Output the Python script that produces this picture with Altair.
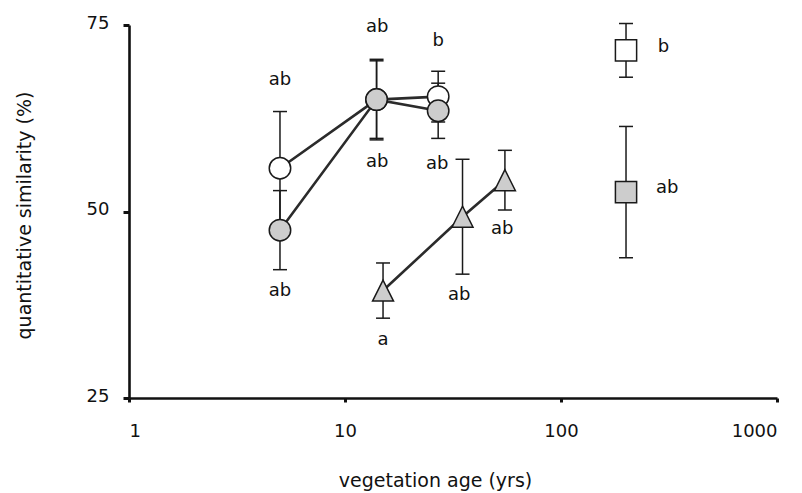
import altair as alt
import pandas as pd

# ---- data ----
oc_age = [5, 14, 27]
oc_mean = [55.8, 65.0, 65.4]
oc_err = [7.6, 5.2, 3.4]

gc_age = [5, 14, 27]
gc_mean = [47.5, 65.0, 63.5]
gc_err = [5.3, 5.4, 3.7]

tr_age = [15, 35, 55]
tr_mean = [39.4, 49.3, 54.2]
tr_err = [3.7, 7.7, 4.0]

os_age = [200]
os_mean = [71.6]
os_err = [3.6]

gs_age = [200]
gs_mean = [52.6]
gs_err = [8.8]

lab_text = ["ab", "ab", "ab", "ab", "b", "ab", "a", "ab", "ab", "b", "ab"]
lab_x = [5, 5, 14.1, 14.1, 27, 26.7, 15, 33.8, 53.4, 298, 310]
lab_y = [67.6, 39.3, 74.7, 56.6, 72.9, 56.4, 32.8, 38.8, 47.6, 72.1, 53.2]


def frame(name, age, mean, err):
    return pd.DataFrame({
        "series": name,
        "age": age,
        "mean": mean,
        "lo": [m - e for m, e in zip(mean, err)],
        "hi": [m + e for m, e in zip(mean, err)],
    })


df = pd.concat([
    frame("oc", oc_age, oc_mean, oc_err),
    frame("gc", gc_age, gc_mean, gc_err),
    frame("tr", tr_age, tr_mean, tr_err),
    frame("os", os_age, os_mean, os_err),
    frame("gs", gs_age, gs_mean, gs_err),
], ignore_index=True)

labels = pd.DataFrame({"text": lab_text, "lx": lab_x, "ly": lab_y})

FONT = "DejaVu Sans"
INK = "#1a1a1a"
GREY = "#cdcdcd"

xscale = alt.Scale(type="log", domain=[1, 1000])
yscale = alt.Scale(domain=[25, 75], zero=False, nice=False)

xenc = alt.X("age:Q", scale=xscale,
             axis=alt.Axis(values=[1, 10, 100, 1000], format="d",
                           title="vegetation age (yrs)", tickSize=4,
                           labelPadding=20, titleX=306, titleY=82,
                           titleBaseline="middle"))
yenc = alt.Y("mean:Q", scale=yscale,
             axis=alt.Axis(values=[25, 50, 75], title="quantitative similarity (%)",
                           tickSize=6, labelPadding=14, titleX=-105,
                           titleY=190, titleBaseline="middle", labelOffset=-2))

base = alt.Chart(df)

lines = base.transform_filter(
    alt.FieldOneOfPredicate(field="series", oneOf=["oc", "gc", "tr"])
).mark_line(color="#2b2b2b", strokeWidth=2.6).encode(
    x=xenc, y=yenc, detail="series:N", order="age:Q")

bars = base.mark_rule(color=INK, strokeWidth=1.5).encode(
    x="age:Q", y="lo:Q", y2="hi:Q")

caps_lo = base.mark_tick(color=INK, thickness=1.5, size=14, orient="horizontal",
                         opacity=1).encode(x="age:Q", y="lo:Q")
caps_hi = base.mark_tick(color=INK, thickness=1.5, size=14, orient="horizontal",
                         opacity=1).encode(x="age:Q", y="hi:Q")


def pts(series, shape, fill, size):
    return base.transform_filter(alt.datum.series == series).mark_point(
        shape=shape, fill=fill, stroke=INK, strokeWidth=1.5, size=size,
        opacity=1, fillOpacity=1, filled=False
    ).encode(x="age:Q", y="mean:Q")


tri = "M0,-1L-1,1L1,1Z"
points = [
    pts("oc", "circle", "white", 460),
    pts("gc", "circle", GREY, 460),
    pts("tr", tri, GREY, 440),
    pts("os", "square", "white", 450),
    pts("gs", "square", GREY, 450),
]

text = alt.Chart(labels).mark_text(font=FONT, fontSize=18, color="#111",
                                   align="center", baseline="middle").encode(
    x=alt.X("lx:Q", scale=xscale), y=alt.Y("ly:Q", scale=yscale), text="text:N")

chart = alt.layer(lines, bars, caps_lo, caps_hi, *points, text).properties(
    width=648, height=373,
    background="white",
    autosize=alt.AutoSizeParams(type="none"),
    padding={"left": 121, "top": 17, "right": 17, "bottom": 94},
).configure_view(stroke=None).configure_axis(
    grid=False, domainColor="#111", domainWidth=2.6, tickColor="#111",
    tickWidth=3, labelFont=FONT, labelFontSize=18, labelColor="#111",
    titleFont=FONT, titleFontSize=19, titleFontWeight="normal", titleColor="#111",
)

chart.save("out.html", embed_options={"renderer": "svg", "actions": False})
